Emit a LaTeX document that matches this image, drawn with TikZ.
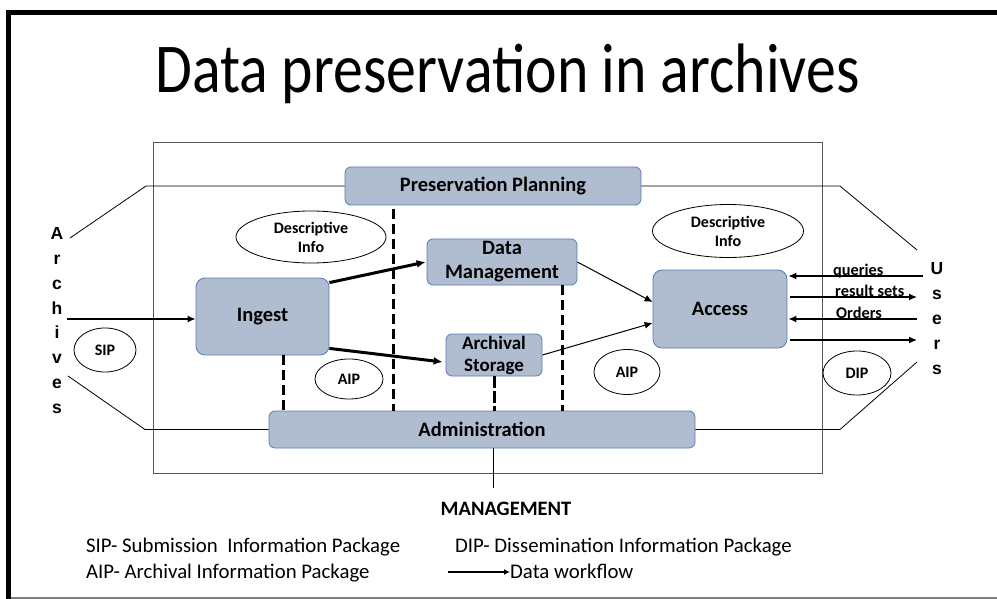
\documentclass[tikz,border=0pt]{standalone}
\usepackage{fontspec}
\setmainfont{Carlito}
\newfontfamily\titlefont[FakeStretch=0.855]{Carlito}
\newfontfamily\arialfont{Liberation Sans}
\usetikzlibrary{arrows.meta,shapes.geometric}
\definecolor{boxfill}{HTML}{B0BCCF}
\definecolor{boxdraw}{HTML}{5B7DB0}
\definecolor{framegray}{HTML}{555555}
\begin{document}
\begin{tikzpicture}[x=1pt,y=-1pt,
  box/.style={draw=boxdraw, fill=boxfill, line width=0.8pt, rounded corners=6pt,
    font=\fontsize{20.5}{24}\selectfont\bfseries, align=center, inner sep=0pt},
  oval/.style={draw, ellipse, inner sep=0pt, line width=0.8pt,
    font=\fontsize{16}{19}\selectfont\bfseries, align=center},
  conn/.style={line width=0.8pt},
  flow/.style={-{Latex[length=8pt,width=7pt]}, line width=1pt},
  bigflow/.style={-{Latex[length=9pt,width=8pt]}, line width=3pt},
  dashline/.style={line width=3pt, dash pattern=on 10pt off 5pt},
  lett/.style={font=\arialfont\fontsize{17.5}{17.5}\selectfont\bfseries, anchor=base, inner sep=0pt},
  lbl/.style={font=\fontsize{16.3}{16.3}\selectfont\bfseries, anchor=base west, inner sep=0pt},
  legend/.style={font=\fontsize{20.8}{20.8}\selectfont, anchor=base west, inner sep=0pt}
]
\useasboundingbox (0,0) rectangle (997,599);
% page frame
\draw[line width=5pt] (8.5,599) -- (8.5,12.5) -- (997,12.5);
\draw[line width=2pt, gray] (11,597.5) -- (997,597.5);
% title
\node[font=\titlefont\fontsize{70}{70}\selectfont, anchor=base, inner sep=0pt] (title) at (507.5,93) {Data preservation in archives};
% main frame
\draw[framegray, line width=0.9pt] (153,142) rectangle (822,473);
% boxes
\node[box, minimum width=296pt, minimum height=38pt] (pp) at (493,186) {Preservation Planning};
\node[box, minimum width=150pt, minimum height=46pt] (dm) at (502,262) {Data\\Management};
\node[box, minimum width=96pt, minimum height=42pt, font=\fontsize{19}{22}\selectfont\bfseries] (as) at (494,355) {Archival\\Storage};
\node[box, minimum width=426pt, minimum height=37pt] (adm) at (482,429.5) {Administration};
\node[box, minimum width=133pt, minimum height=77pt, rounded corners=9pt] (ingest) at (262.5,316.5) {Ingest};
\node[box, minimum width=134pt, minimum height=78pt, rounded corners=9pt] (access) at (720,309) {Access};
% ellipses
\node[oval, minimum width=150pt, minimum height=52pt] (descl) at (311,237) {Descriptive\\Info};
\node[oval, minimum width=151pt, minimum height=53pt] (descr) at (728,231) {Descriptive\\Info};
\node[oval, minimum width=62pt, minimum height=44pt] (sip) at (105,350) {SIP};
\node[oval, minimum width=68pt, minimum height=40pt] (aipl) at (349,379) {AIP};
\node[oval, minimum width=66pt, minimum height=45pt] (aipr) at (627,372) {AIP};
\node[oval, minimum width=68pt, minimum height=44pt] (dip) at (857,373) {DIP};
% Archives / Users letters
\foreach \l [count=\i] in {A,r,c,h,i,v,e,s}
  \node[lett] (arch\i) at (57,{239.5+24.85*(\i-1)}) {\l};
\foreach \l [count=\i] in {U,s,e,r,s}
  \node[lett] (user\i) at (937,{274.5+25*(\i-1)}) {\l};
% outer connectors
\coordinate (lt0) at (70,238);   \coordinate (lt1) at (146,186);
\coordinate (lb0) at (68,376);   \coordinate (lb1) at (145,429.5);
\coordinate (rt1) at (840,186);  \coordinate (rt0) at (917,250);
\coordinate (rb1) at (840,429.5);\coordinate (rb0) at (917,362);
\draw[conn] (lt0) -- (lt1) -- (pp.west);
\draw[conn] (lb0) -- (lb1) -- (adm.west);
\draw[conn] (pp.east) -- (rt1) -- (rt0);
\draw[conn] (adm.east) -- (rb1) -- (rb0);
% dashed links
\coordinate (d1) at (393,0);
\coordinate (d2) at (283,0);
\coordinate (d3) at (494,0);
\coordinate (d4) at (562,0);
\draw[dashline] (d1 |- pp.south) ++(0,4) -- (d1 |- adm.north);
\draw[dashline] (d2 |- ingest.south) -- (d2 |- adm.north);
\draw[dashline, dash pattern=on 12pt off 3pt] (d3 |- as.south) -- (d3 |- adm.north);
\draw[dashline] (d4 |- dm.south) -- (d4 |- adm.north);
% data flows
\coordinate (ain) at (67,319);
\draw[flow, line width=1.3pt] (ain) -- (ain -| ingest.west);
\draw[bigflow] ([yshift=-5pt]ingest.north east) -- ([xshift=-1pt]dm.west);
\draw[bigflow] ([yshift=7pt]ingest.south east) -- ([xshift=-3pt,yshift=-7pt]as.west);
\draw[flow] (dm.east) -- ([yshift=7pt]access.west);
\draw[flow] (as.east) -- ([yshift=-14pt]access.west);
% user flows
\coordinate (q0) at (923,276);
\coordinate (r0) at (917,297);
\coordinate (o0) at (917,319);
\coordinate (x0) at (917,340);
\draw[flow, line width=1.3pt] (q0) -- ([xshift=1pt]q0 -| access.east);
\draw[flow, line width=1.3pt] ([xshift=3pt]r0 -| access.east) -- (r0);
\draw[flow, line width=1.3pt] (o0) -- ([xshift=1pt]o0 -| access.east);
\draw[flow, line width=1.3pt] ([xshift=3pt]x0 -| access.east) -- (x0);
\node[lbl] (lq) at (833,276) {queries};
\node[lbl] (lr) at (835,296) {result sets};
\node[lbl] (lo) at (836,318) {Orders};
% management
\coordinate (mg) at (493,488);
\draw[conn] (mg |- adm.south) -- (mg);
\node[font=\fontsize{20.5}{20.5}\selectfont\bfseries, anchor=base, inner sep=0pt] (mgmt) at (506,515) {MANAGEMENT};
% legend
\node[legend] (lsip) at (86,552) {SIP- Submission\ \ Information Package};
\node[legend] (laip) at (86,578) {AIP- Archival Information Package};
\node[legend] (ldip) at (455,552) {DIP- Dissemination Information Package};
\coordinate (wf0) at (448,572);
\node[legend] (lwf) at (510,578) {Data workflow};
\draw[flow, line width=1.5pt, -{Latex[length=6pt,width=6pt]}] (wf0) -- (lwf.west |- wf0);
\end{tikzpicture}
\end{document}
